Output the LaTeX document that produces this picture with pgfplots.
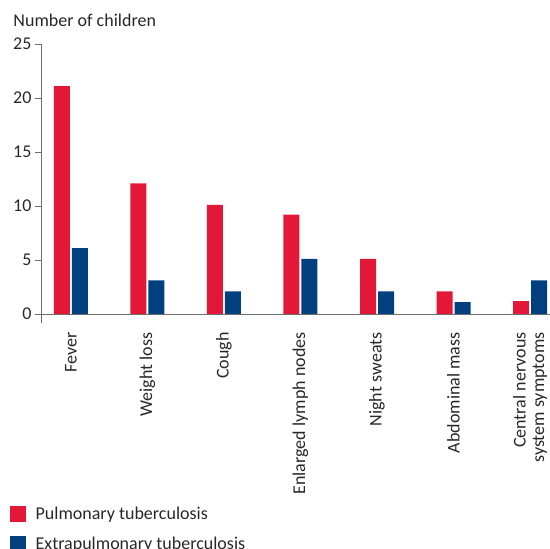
\documentclass[border=0pt]{standalone}
\usepackage{pgfplots}
\pgfplotsset{compat=1.18}
\usepackage{fontspec}
\setmainfont{Carlito}
\definecolor{pred}{RGB}{227,24,56}
\definecolor{pblue}{RGB}{0,64,127}
\definecolor{axgray}{RGB}{110,110,110}
\definecolor{txt}{RGB}{40,40,40}
\begin{document}
\begin{tikzpicture}
\begin{axis}[
  at={(41pt,226.4pt)}, anchor=south west,
  scale only axis, width=509pt, height=278.6pt,
  ybar, bar width=16pt, bar shift auto,
  xmin=-0.39, xmax=6.26, ymin=-0.8, ymax=25,
  axis y line*=left, axis x line*=middle,
  axis line style={axgray, line width=0.9pt},
  xtick=data,
  xticklabels={Fever,Weight loss,Cough,Enlarged lymph nodes,Night sweats,Abdominal mass,{Central nervous\\system symptoms}},
  xticklabel style={rotate=90, anchor=east, align=right, font=\fontsize{18}{18.5}\selectfont, text=txt, xshift=-9pt},
  x tick style={draw=none},
  ytick={0,5,10,15,20,25},
  y tick style={axgray, line width=0.9pt},
  tick align=outside, major tick length=6pt,
  yticklabel style={font=\fontsize{18}{20}\selectfont, text=txt},
  /pgf/number format/assume math mode=true,
  ylabel={Number of children},
  ylabel style={rotate=-90, at={(axis description cs:-0.061,1)}, anchor=base west, yshift=17pt, font=\fontsize{18}{20}\selectfont, text=txt},
  legend style={at={(axis description cs:-0.062,-0.658)}, anchor=north west, draw=none, fill=none, inner sep=0pt,
    font=\fontsize{18}{20}\selectfont, text=txt, row sep=14pt, column sep=0pt,
    nodes={inner sep=0pt, anchor=base west}},
  legend cell align=left,
  legend image code/.code={\fill[#1] (0pt,-3pt) rectangle (16pt,13pt); \path (26pt,0pt);},
]
\addplot[draw=none, fill=pred] coordinates {(0,21.1) (1,12.1) (2,10.1) (3,9.2) (4,5.1) (5,2.1) (6,1.2)};
\addplot[draw=none, fill=pblue] coordinates {(0,6.1) (1,3.1) (2,2.1) (3,5.1) (4,2.1) (5,1.1) (6,3.1)};
\legend{Pulmonary tuberculosis, Extrapulmonary tuberculosis}
\end{axis}
\pgfresetboundingbox
\useasboundingbox (0pt,0pt) rectangle (550pt,549pt);
\end{tikzpicture}
\end{document}
